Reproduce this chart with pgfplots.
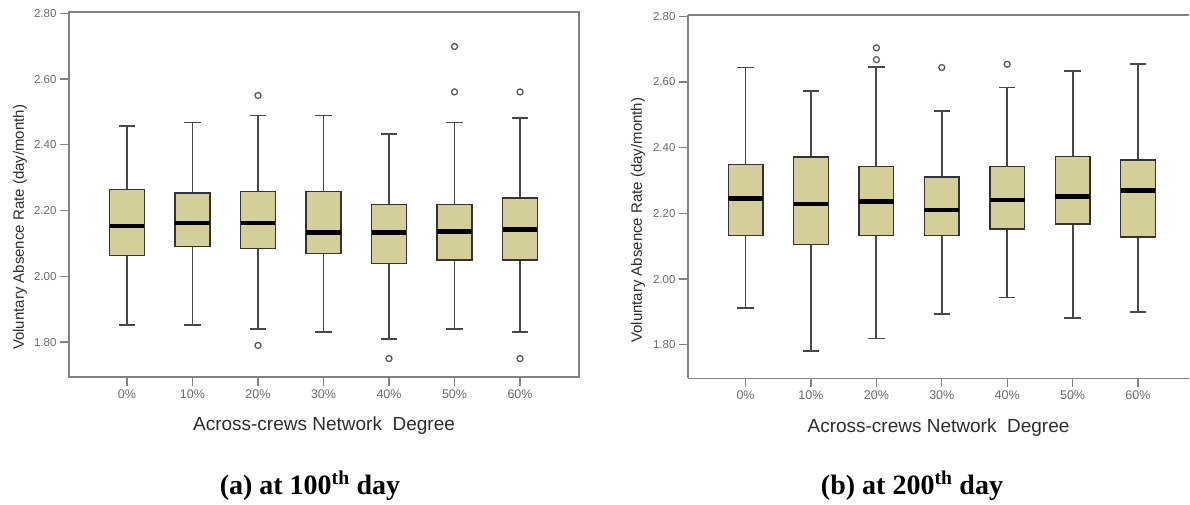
\documentclass[border=0pt]{standalone}
\usepackage{pgfplots}
\pgfplotsset{compat=1.18}
\usepgfplotslibrary{statistics}
\usepackage{fontspec}
\setmainfont{Liberation Sans}
\newfontfamily\capfont{Liberation Serif}
\definecolor{boxfill}{RGB}{212,206,154}
\definecolor{axgray}{RGB}{130,130,130}
\definecolor{tlgray}{RGB}{105,105,105}
\definecolor{lblgray}{RGB}{45,45,45}
\pgfplotsset{
  mybox/.style={draw=black!75, line width=1.6pt, solid,
    mark=o, mark size=3pt, mark options={solid, draw=black!65, line width=1.3pt},
    boxplot/draw direction=y,
    boxplot/box extend=0.53, boxplot/whisker extend=0.25,
    boxplot/every box/.style={fill=boxfill, draw=black!80, line width=1.4pt},
    boxplot/every median/.style={draw=black, line width=4.5pt},
    boxplot/every whisker/.style={draw=black!72, line width=1.8pt}},
  myaxis/.style={scale only axis, anchor=south west,
    xtick={0,1,2,3,4,5,6}, xticklabels={0\%,10\%,20\%,30\%,40\%,50\%,60\%},
    ytick={1.8,2.0,2.2,2.4,2.6,2.8},
    /pgf/number format/fixed, /pgf/number format/fixed zerofill, /pgf/number format/precision=2,
    /pgf/number format/assume math mode=true,
    xtick pos=bottom, ytick pos=left,
    tick align=outside, major tick length=9pt,
    tick style={draw=axgray, line width=1.3pt},
    axis line style={draw=axgray, line width=1.3pt},
    xticklabel style={font=\fontsize{12.5}{14}\selectfont, text=tlgray},
    yticklabel style={font=\fontsize{11.5}{13}\selectfont, text=tlgray},
    every axis x label/.style={at={(rel axis cs:0.5,0)}, anchor=center, yshift=-49pt,
      font=\fontsize{19}{22}\selectfont, text=lblgray},
    clip=false}
}
\begin{document}
\begin{tikzpicture}
\useasboundingbox (0,0) rectangle (1190pt,504pt);
% (a) 100th day
\begin{axis}[myaxis, at={(69pt,127pt)}, width=510pt, height=365pt,
  xmin=-0.885, xmax=6.9, ymin=1.694, ymax=2.804,
  xlabel={Across-crews Network\ \ Degree},
  every axis y label/.style={at={(rel axis cs:0,0.41)}, xshift=-49pt, rotate=90, anchor=center,
      font=\fontsize{15}{18}\selectfont, text=lblgray},
  ylabel={Voluntary Absence Rate (day/month)}]
\addplot[mybox, boxplot prepared={draw position=0, lower whisker=1.852, lower quartile=2.064, median=2.153, upper quartile=2.265, upper whisker=2.458}] coordinates {};
\addplot[mybox, boxplot prepared={draw position=1, lower whisker=1.852, lower quartile=2.090, median=2.162, upper quartile=2.254, upper whisker=2.468}] coordinates {};
\addplot[mybox, boxplot prepared={draw position=2, lower whisker=1.840, lower quartile=2.085, median=2.162, upper quartile=2.258, upper whisker=2.489}] table[row sep=\\, y index=0] {y\\ 2.550\\ 1.790\\};
\addplot[mybox, boxplot prepared={draw position=3, lower whisker=1.831, lower quartile=2.070, median=2.133, upper quartile=2.259, upper whisker=2.489}] coordinates {};
\addplot[mybox, boxplot prepared={draw position=4, lower whisker=1.810, lower quartile=2.040, median=2.133, upper quartile=2.219, upper whisker=2.432}] table[row sep=\\, y index=0] {y\\ 1.750\\};
\addplot[mybox, boxplot prepared={draw position=5, lower whisker=1.841, lower quartile=2.050, median=2.137, upper quartile=2.219, upper whisker=2.468}] table[row sep=\\, y index=0] {y\\ 2.699\\ 2.561\\};
\addplot[mybox, boxplot prepared={draw position=6, lower whisker=1.831, lower quartile=2.050, median=2.142, upper quartile=2.238, upper whisker=2.481}] table[row sep=\\, y index=0] {y\\ 2.561\\ 1.750\\};
\end{axis}
% (b) 200th day
\begin{axis}[myaxis, at={(688pt,125.7pt)}, width=501pt, height=363.3pt,
  axis y line*=left,
  xmin=-0.88, xmax=6.78, ymin=1.698, ymax=2.804,
  xlabel={Across-crews Network\ \ Degree},
  every axis y label/.style={at={(rel axis cs:0,0.435)}, xshift=-50pt, rotate=90, anchor=center,
      font=\fontsize{15}{18}\selectfont, text=lblgray},
  ylabel={Voluntary Absence Rate (day/month)}]
\addplot[mybox, boxplot prepared={draw position=0, lower whisker=1.913, lower quartile=2.133, median=2.246, upper quartile=2.348, upper whisker=2.644}] coordinates {};
\addplot[mybox, boxplot prepared={draw position=1, lower whisker=1.781, lower quartile=2.106, median=2.229, upper quartile=2.372, upper whisker=2.573}] coordinates {};
\addplot[mybox, boxplot prepared={draw position=2, lower whisker=1.819, lower quartile=2.133, median=2.236, upper quartile=2.342, upper whisker=2.646}] table[row sep=\\, y index=0] {y\\ 2.704\\ 2.668\\};
\addplot[mybox, boxplot prepared={draw position=3, lower whisker=1.893, lower quartile=2.133, median=2.210, upper quartile=2.311, upper whisker=2.511}] table[row sep=\\, y index=0] {y\\ 2.644\\};
\addplot[mybox, boxplot prepared={draw position=4, lower whisker=1.944, lower quartile=2.153, median=2.241, upper quartile=2.342, upper whisker=2.583}] table[row sep=\\, y index=0] {y\\ 2.654\\};
\addplot[mybox, boxplot prepared={draw position=5, lower whisker=1.881, lower quartile=2.168, median=2.251, upper quartile=2.373, upper whisker=2.634}] coordinates {};
\addplot[mybox, boxplot prepared={draw position=6, lower whisker=1.901, lower quartile=2.128, median=2.270, upper quartile=2.362, upper whisker=2.654}] coordinates {};
\end{axis}
\node[anchor=base, font=\capfont\bfseries\fontsize{28}{31}\selectfont] at (310pt,10pt) {(a) at 100\textsuperscript{th} day};
\node[anchor=base, font=\capfont\bfseries\fontsize{28}{31}\selectfont] at (912pt,10pt) {(b) at 200\textsuperscript{th} day};
\end{tikzpicture}
\end{document}
